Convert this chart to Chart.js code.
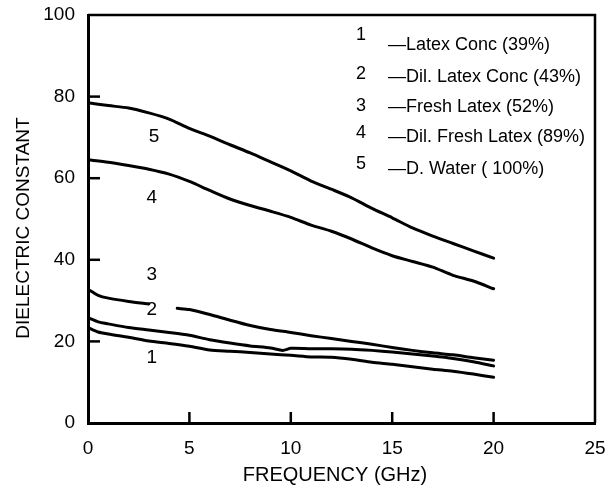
<!DOCTYPE html>
<html>
<head>
<meta charset="utf-8">
<title>Dielectric constant vs frequency</title>
<script src="https://cdn.jsdelivr.net/npm/chart.js@4.4.0/dist/chart.umd.min.js"></script>
<style>
  html, body { margin: 0; padding: 0; background: #fff; }
  #wrap { width: 607px; height: 489px; }
</style>
</head>
<body>
<div id="wrap"><canvas id="chart" width="607" height="489"></canvas></div>
<script>
// values (frequency in GHz, dielectric constant)
const freqWater = [0, 1, 2, 3, 4, 5, 6, 7, 8, 9, 10, 11, 12, 13, 14, 15, 16, 17, 18, 19, 20];
const water = [78.5, 77.8, 77.2, 76.0, 74.5, 72.2, 70.3, 68.2, 66.2, 64.0, 61.8, 59.3, 57.3, 55.2, 52.6, 50.3, 47.8, 45.8, 44.0, 42.2, 40.4];

const freqDilFresh = [0, 1, 2, 3, 4, 5, 6, 7, 8, 9, 10, 11, 12, 13, 14, 15, 16, 17, 18, 19, 20];
const dilFresh = [64.5, 63.9, 63.1, 62.2, 61.0, 59.2, 57.0, 54.9, 53.3, 51.9, 50.4, 48.5, 47.0, 45.1, 42.9, 41.0, 39.6, 38.2, 36.2, 34.8, 32.9];

// curve 3 is broken where the "2" label sits
const freqFresh = [0, 0.5, 1, 2, 3, 3.5, 4.4, 5, 6, 7, 8, 9, 10, 11, 12, 13, 14, 15, 16, 17, 18, 19, 20];
const fresh = [32.8, 31.3, 30.6, 29.8, 29.2, null, 28.1, 27.8, 26.6, 25.2, 23.9, 22.9, 22.2, 21.4, 20.7, 20.0, 19.3, 18.5, 17.8, 17.2, 16.7, 16.0, 15.4];

const freqDilConc = [0, 0.5, 1, 2, 3, 4, 5, 6, 7, 8, 9, 9.6, 10, 11, 12, 13, 14, 15, 16, 17, 18, 19, 20];
const dilConc = [25.8, 24.8, 24.3, 23.4, 22.8, 22.2, 21.5, 20.4, 19.6, 18.9, 18.4, 17.8, 18.3, 18.2, 18.2, 18.1, 17.8, 17.4, 16.9, 16.4, 15.8, 15.0, 14.0];

const freqConc = [0, 0.5, 1, 2, 3, 4, 5, 6, 7, 8, 9, 10, 11, 12, 13, 14, 15, 16, 17, 18, 19, 20];
const conc = [23.4, 22.3, 21.8, 21.0, 20.1, 19.5, 18.8, 17.9, 17.6, 17.3, 16.9, 16.6, 16.2, 16.1, 15.6, 14.9, 14.4, 13.8, 13.2, 12.7, 12.0, 11.2];

const curveNumbers = ['1', '2', '3', '4', '5'];
const legendLabels = ['Latex Conc (39%)', 'Dil. Latex Conc (43%)', 'Fresh Latex (52%)', 'Dil. Fresh Latex (89%)', 'D. Water ( 100%)'];
const xTicks = [0, 5, 10, 15, 20, 25];
const yTicks = [0, 20, 40, 60, 80, 100];

const FONT = '"Liberation Sans", Arial, sans-serif';

function pairs(xs, ys) {
  return xs.map((x, i) => ({ x: x, y: ys[i] }));
}

function curve(xs, ys) {
  return {
    data: pairs(xs, ys),
    borderColor: '#000',
    borderWidth: 3,
    pointRadius: 0,
    tension: 0.25,
    spanGaps: false,
    borderCapStyle: 'round'
  };
}

// where the curve numbers sit inside the plot (data units)
const curveLabelSpots = [
  { x: 3.15, y: 15.9 },
  { x: 3.15, y: 27.7 },
  { x: 3.15, y: 36.3 },
  { x: 3.15, y: 55.1 },
  { x: 3.25, y: 70.1 }
];

const decorations = {
  id: 'decorations',
  afterDraw(chart) {
    const { ctx, chartArea: a, scales: { x, y } } = chart;
    ctx.save();
    ctx.strokeStyle = '#000';
    ctx.fillStyle = '#000';

    // top and right frame
    ctx.lineWidth = 2.5;
    ctx.beginPath();
    ctx.moveTo(a.left, a.top);
    ctx.lineTo(a.right, a.top);
    ctx.lineTo(a.right, a.bottom);
    ctx.stroke();

    // inward tick marks
    yTicks.slice(1, -1).forEach(v => {
      const py = y.getPixelForValue(v);
      ctx.beginPath();
      ctx.moveTo(a.left, py);
      ctx.lineTo(a.left + 12, py);
      ctx.stroke();
    });
    xTicks.slice(1, -1).forEach(v => {
      const px = x.getPixelForValue(v);
      ctx.beginPath();
      ctx.moveTo(px, a.bottom);
      ctx.lineTo(px, a.bottom - 11);
      ctx.stroke();
    });

    // curve numbers in the plot
    ctx.font = '19px ' + FONT;
    ctx.textAlign = 'center';
    ctx.textBaseline = 'middle';
    curveLabelSpots.forEach((p, i) => {
      ctx.fillText(curveNumbers[i], x.getPixelForValue(p.x), y.getPixelForValue(p.y));
    });

    // key
    const rowNum = [35, 74, 106, 133, 164];
    const rowText = [45, 77, 107, 137, 169];
    ctx.font = '18px ' + FONT;
    curveNumbers.forEach((n, i) => {
      ctx.textAlign = 'center';
      ctx.fillText(n, 361, rowNum[i]);
      ctx.textAlign = 'left';
      ctx.fillText('\u2014' + legendLabels[i], 388, rowText[i]);
    });

    // axis titles
    ctx.font = '20px ' + FONT;
    ctx.textAlign = 'center';
    ctx.fillText('FREQUENCY (GHz)', 335, 475);
    ctx.translate(24, 228);
    ctx.rotate(-Math.PI / 2);
    ctx.font = '19px ' + FONT;
    ctx.fillText('DIELECTRIC CONSTANT', 0, 0);
    ctx.restore();
  }
};

new Chart(document.getElementById('chart'), {
  type: 'line',
  data: {
    datasets: [
      curve(freqConc, conc),
      curve(freqDilConc, dilConc),
      curve(freqFresh, fresh),
      curve(freqDilFresh, dilFresh),
      curve(freqWater, water)
    ]
  },
  options: {
    responsive: false,
    animation: false,
    layout: { padding: { top: 15, right: 12, left: 0, bottom: 0 } },
    plugins: {
      legend: { display: false },
      tooltip: { enabled: false }
    },
    scales: {
      x: {
        type: 'linear',
        min: 0,
        max: 25,
        afterBuildTicks: s => { s.ticks = xTicks.map(v => ({ value: v })); },
        afterFit: s => { s.height = 66; s.paddingLeft = 0; s.paddingRight = 0; },
        ticks: { color: '#000', font: { family: FONT, size: 19 }, padding: 6, maxRotation: 0 },
        grid: { display: false },
        border: { color: '#000', width: 3 }
      },
      y: {
        min: 0,
        max: 100,
        afterBuildTicks: s => { s.ticks = yTicks.map(v => ({ value: v })); },
        afterFit: s => { s.width = 88; s.paddingTop = 0; s.paddingBottom = 0; },
        ticks: { color: '#000', font: { family: FONT, size: 19 }, padding: 5 },
        grid: { display: false },
        border: { color: '#000', width: 3 }
      }
    }
  },
  plugins: [decorations]
});
</script>
</body>
</html>
